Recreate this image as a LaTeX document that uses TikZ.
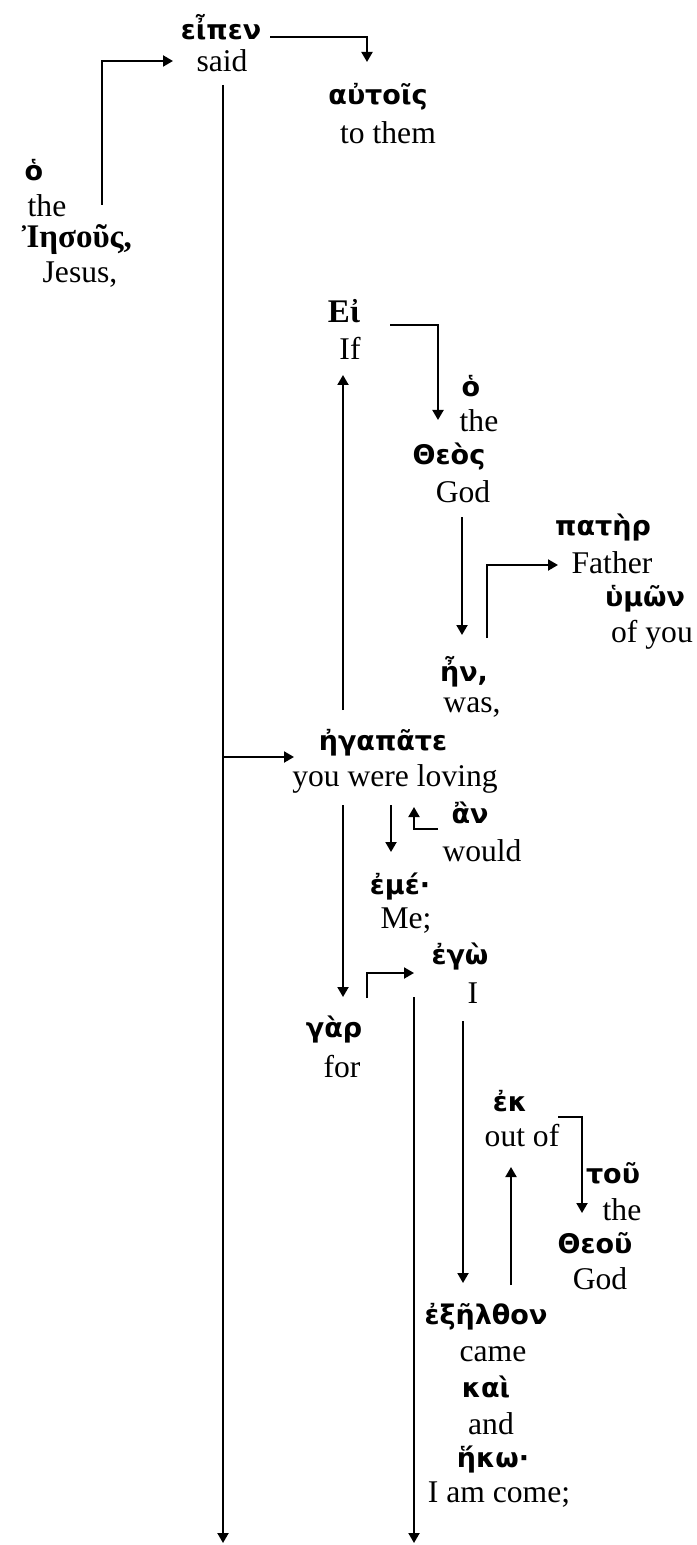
\documentclass[tikz,border=0pt]{standalone}
\usepackage{fontspec}
\setmainfont{Liberation Serif}
\newfontfamily\greekfont{DejaVu Sans}
\usetikzlibrary{arrows.meta}

\tikzset{
	greek/.style={inner sep=0pt, font=\greekfont\bfseries\fontsize{13.5}{15}\selectfont},
	greekserif/.style={inner sep=0pt, font=\bfseries\fontsize{16.5}{18}\selectfont},
	english/.style={inner sep=0pt, font=\fontsize{15.8}{18}\selectfont},
	link/.style={-{Triangle[length=5pt,width=5.5pt]}, line width=1pt},
}

% greek word over its english gloss
\newcommand{\gloss}[6][greek]{
	\node[#1] (#2) at (#3) {#4};
	\node[english] (#2-en) at (#5) {#6};
}

\begin{document}
\begin{tikzpicture}[x=0.5pt, y=-0.5pt]

	\useasboundingbox (0,0) rectangle (696,1545);

	\gloss{eipen}{221,27}{εἶπεν}{222,61}{said}
	\gloss{autois}{378,97}{αὐτοῖς}{388,133}{to them}
	\gloss{ho}{34,170}{ὁ}{47,206}{the}
	\gloss[greekserif]{iesous}{77,240}{Ἰησοῦς,}{80,275}{Jesus,}
	\gloss[greekserif]{ei}{344,311}{Εἰ}{350,348}{If}
	\gloss{hotheos}{471,386}{ὁ}{479,421}{the}
	\gloss{theos}{449,457}{Θεὸς}{463,492}{God}
	\gloss{pater}{603,528}{πατὴρ}{612,563}{Father}
	\gloss{humon}{645,599}{ὑμῶν}{652,635}{of you}
	\gloss{en}{464,672}{ἦν,}{472,707}{was,}
	\gloss{egapate}{383,743}{ἠγαπᾶτε}{395,779}{you were loving}
	\gloss{an}{470,813}{ἂν}{482,851}{would}
	\gloss{eme}{400,887}{ἐμέ·}{406,921}{Me;}
	\gloss{ego}{460,957}{ἐγὼ}{473,993}{I}
	\gloss{gar}{334,1030}{γὰρ}{342,1067}{for}
	\gloss{ek}{510,1101}{ἐκ}{522,1136}{out of}
	\gloss{tou}{613,1173}{τοῦ}{622,1210}{the}
	\gloss{theou}{595,1243}{Θεοῦ}{600,1279}{God}
	\gloss{exelthon}{486,1317}{ἐξῆλθον}{493,1354}{came}
	\gloss{kai}{486,1387}{καὶ}{491,1424}{and}
	\gloss{heko}{493,1459}{ἥκω·}{499,1495}{I am come;}

	% ends and bends of the links
	\coordinate (eipen-out) at (270,37);
	\coordinate (autois-in) at (367,62);
	\coordinate (ho-out) at (102,205);
	\coordinate (said-in) at (173,61);
	\coordinate (said-out) at (223,85);
	\coordinate (said-end) at (223,1543);
	\coordinate (said-mid) at (223,757);
	\coordinate (egapate-in) at (294,757);
	\coordinate (egapate-up) at (343,710);
	\coordinate (ei-in) at (343,375);
	\coordinate (egapate-down) at (343,805);
	\coordinate (gar-in) at (343,997);
	\coordinate (ei-out) at (390,325);
	\coordinate (hotheos-in) at (438,420);
	\coordinate (theos-out) at (462,517);
	\coordinate (en-in) at (462,635);
	\coordinate (en-out) at (487,638);
	\coordinate (pater-in) at (558,565);
	\coordinate (egapate-obj) at (391,805);
	\coordinate (eme-in) at (391,852);
	\coordinate (an-out) at (438,829);
	\coordinate (an-in) at (414,807);
	\coordinate (gar-out) at (367,998);
	\coordinate (ego-in) at (414,973);
	\coordinate (ego-out) at (414,997);
	\coordinate (ego-end) at (414,1543);
	\coordinate (ego-verb) at (463,1021);
	\coordinate (exelthon-in) at (463,1283);
	\coordinate (ek-out) at (558,1117);
	\coordinate (tou-in) at (582,1213);
	\coordinate (exelthon-out) at (511,1285);
	\coordinate (ek-in) at (511,1167);

	\draw[link] (eipen-out) -| (autois-in);
	\draw[link] (ho-out) |- (said-in);
	\draw[link] (said-out) -- (said-end);
	\draw[link] (said-mid) -- (egapate-in);
	\draw[link] (egapate-up) -- (ei-in);
	\draw[link] (egapate-down) -- (gar-in);
	\draw[link] (ei-out) -| (hotheos-in);
	\draw[link] (theos-out) -- (en-in);
	\draw[link] (en-out) |- (pater-in);
	\draw[link] (egapate-obj) -- (eme-in);
	\draw[link] (an-out) -| (an-in);
	\draw[link] (gar-out) |- (ego-in);
	\draw[link] (ego-out) -- (ego-end);
	\draw[link] (ego-verb) -- (exelthon-in);
	\draw[link] (ek-out) -| (tou-in);
	\draw[link] (exelthon-out) -- (ek-in);

\end{tikzpicture}
\end{document}
